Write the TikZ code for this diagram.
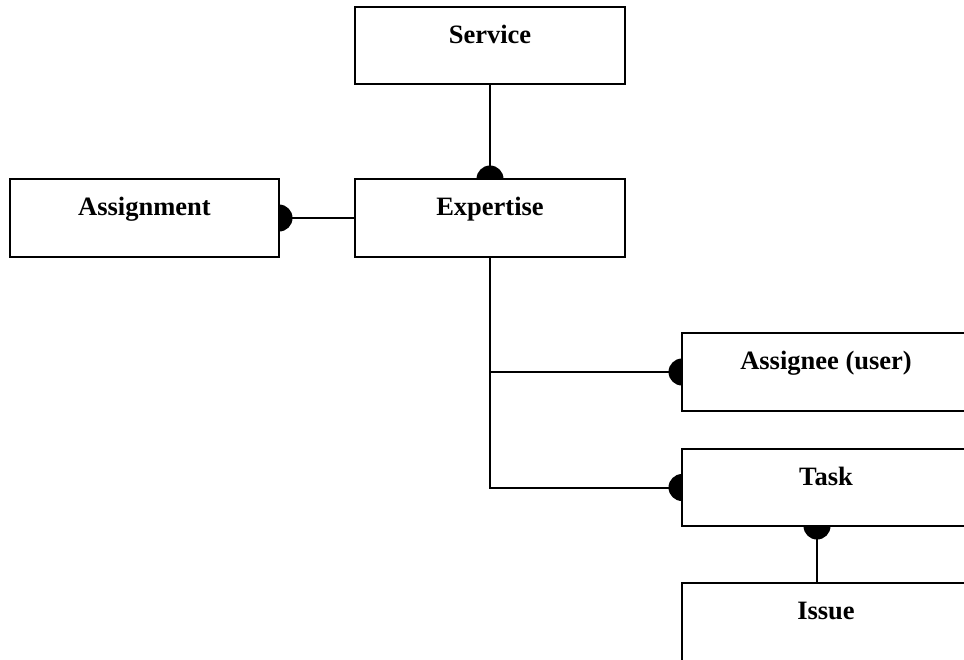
\documentclass[tikz,border=0pt]{standalone}
\usepackage{fontspec}
\setmainfont{Liberation Serif}
\begin{document}
\begin{tikzpicture}[x=1pt, y=-1pt,
  entity/.style={draw, line width=2.2pt, fill=white, anchor=north west,
    inner sep=0pt, outer sep=0pt},
  caption/.style={anchor=base, inner sep=0pt, font=\fontsize{26.5}{30}\selectfont\bfseries},
  link/.style={line width=2pt}]
\useasboundingbox (0,0) rectangle (964,659);

% entity boxes
\node[entity, minimum width=270pt, minimum height=77pt] (svc) at (355,7) {};
\node[entity, minimum width=270pt, minimum height=78pt] (exp) at (355,179) {};
\node[entity, minimum width=269pt, minimum height=78pt] (asg) at (10,179) {};
\node[entity, minimum width=288pt, minimum height=78pt] (usr) at (682,333) {};
\node[entity, minimum width=288pt, minimum height=77pt] (task) at (682,449) {};
\node[entity, minimum width=288pt, minimum height=82pt] (iss) at (682,583) {};

% captions, placed near the top of each box
\node[caption] (svc-t)  at ([yshift=-36pt]svc.north)  {Service};
\node[caption] (exp-t)  at ([yshift=-36pt]exp.north)  {Expertise};
\node[caption] (asg-t)  at ([yshift=-36pt]asg.north)  {Assignment};
\node[caption] (usr-t)  at ([yshift=-36pt]usr.north)  {Assignee (user)};
\node[caption] (task-t) at ([yshift=-36pt]task.north) {Task};
\node[caption] (iss-t)  at ([yshift=-36pt]iss.north)  {Issue};

% branch points of the connectors
\coordinate (task-s) at ([xshift=-9pt]task.south);
\coordinate (trunk-a) at (exp.south |- usr.west);
\coordinate (trunk-b) at (exp.south |- task.west);

% connectors
\draw[link] (svc.south) -- (exp.north);
\draw[link] (exp.west) -- (asg.east);
\draw[link] (exp.south) -- (trunk-b) -- (task.west);
\draw[link] (trunk-a) -- (usr.west);
\draw[link] (task-s) -- (task-s |- iss.north);

% filled half-disc ends
\newcommand\halfdisc[2]{%
  \fill (#1) ++(#2+90:13.5pt) arc[start angle=#2+90, end angle=#2-90, radius=13.5pt] -- cycle;}
\halfdisc{asg.east}{0}
\halfdisc{exp.north}{90}
\halfdisc{usr.west}{180}
\halfdisc{task.west}{180}
\halfdisc{task-s}{-90}
\end{tikzpicture}
\end{document}
